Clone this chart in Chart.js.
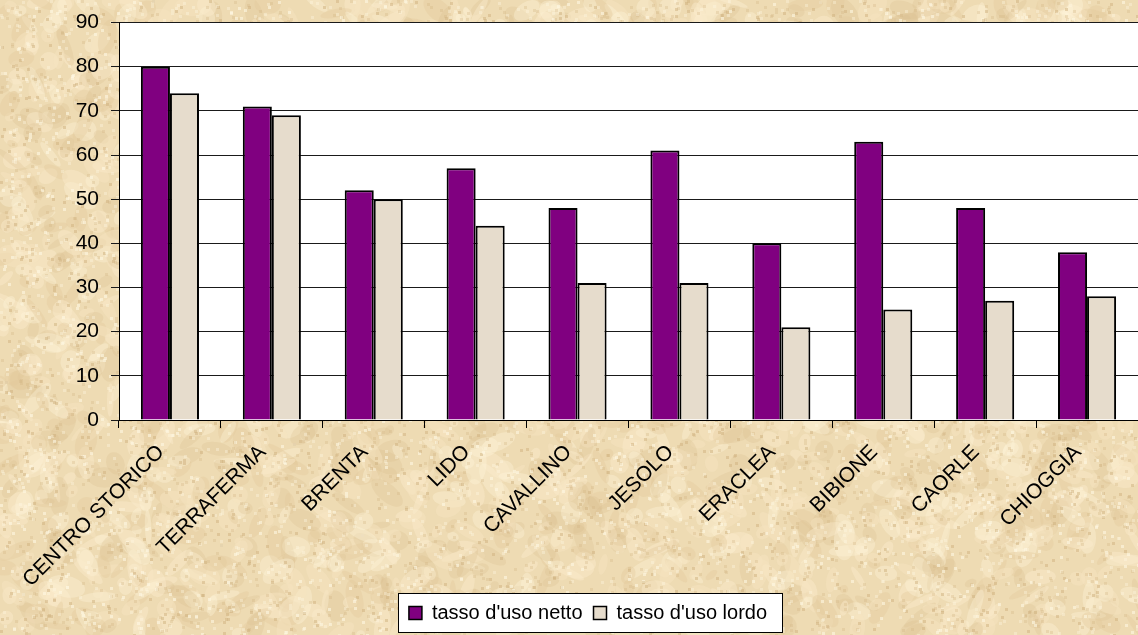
<!DOCTYPE html>
<html>
<head>
<meta charset="utf-8">
<script src="https://cdn.jsdelivr.net/npm/chart.js@4/dist/chart.umd.min.js"></script>
<style>
  html, body { margin: 0; padding: 0; }
  body { width: 1138px; height: 635px; overflow: hidden; background-color: #EFDDB6; }
  #bg { position: absolute; left: 0; top: 0; }
  #wrap { position: absolute; left: 0; top: 0; width: 1138px; height: 635px; }
</style>
</head>
<body>
<canvas id="bg" width="1138" height="635"></canvas>
<div id="wrap"><canvas id="c" width="1138" height="635"></canvas></div>
<script>
const categories = ["CENTRO STORICO", "TERRAFERMA", "BRENTA", "LIDO", "CAVALLINO", "JESOLO", "ERACLEA", "BIBIONE", "CAORLE", "CHIOGGIA"];
const nettoValues = [80, 71, 52, 57, 48, 61, 40, 63, 48, 38];
const lordoValues = [74, 69, 50, 44, 31, 31, 21, 25, 27, 28];
const seriesNames = ["tasso d'uso netto", "tasso d'uso lordo"];
const yMin = 0, yMax = 90, yStep = 10;

const FONT = "'Liberation Sans', Arial, sans-serif";

// decorative parchment texture (deterministic hash, not data)
(function paintParchment() {
  const cv = document.getElementById('bg');
  const g = cv.getContext('2d');
  g.fillStyle = '#EEDBB3';
  g.fillRect(0, 0, cv.width, cv.height);
  let s = 12345;
  const h = () => { s = (s * 1103515245 + 12345) & 0x7fffffff; return s / 0x7fffffff; };
  const shades = ['rgba(250,236,205,0.45)', 'rgba(226,200,155,0.35)', 'rgba(245,228,192,0.5)', 'rgba(215,188,140,0.25)', 'rgba(255,245,220,0.35)'];
  for (let i = 0; i < 3000; i++) {
    const x = h() * cv.width, y = h() * cv.height;
    const w = 4 + h() * 16, hh = 3 + h() * 8;
    g.fillStyle = shades[Math.floor(h() * shades.length)];
    g.beginPath();
    g.ellipse(x, y, w, hh, h() * Math.PI, 0, Math.PI * 2);
    g.fill();
  }
  for (let i = 0; i < 14000; i++) {
    const x = h() * cv.width, y = h() * cv.height;
    g.fillStyle = h() < 0.5 ? 'rgba(210,180,130,0.3)' : 'rgba(255,248,228,0.35)';
    g.fillRect(Math.floor(x), Math.floor(y), 3, 3);
  }
})();

const plotBg = {
  id: 'plotBg',
  beforeDraw(chart) {
    const { ctx, chartArea: a } = chart;
    ctx.save();
    ctx.fillStyle = '#FFFFFF';
    ctx.fillRect(a.left, a.top, a.right - a.left, a.bottom - a.top);
    ctx.restore();
  }
};

const LEGEND_SHIFT = 19;
const legendBox = {
  id: 'legendBox',
  afterUpdate(chart) {
    const lg = chart.legend;
    if (!lg || !lg.legendHitBoxes) return;
    lg.left += LEGEND_SHIFT; lg.right += LEGEND_SHIFT;
    lg.legendHitBoxes.forEach(hb => { hb.left += LEGEND_SHIFT; });
  },
  beforeDraw(chart) {
    const lg = chart.legend;
    if (!lg || !lg.legendHitBoxes || !lg.legendHitBoxes.length) return;
    const hb = lg.legendHitBoxes;
    let l = Infinity, r = -Infinity, t = Infinity, b = -Infinity;
    hb.forEach(h => { l = Math.min(l, h.left); r = Math.max(r, h.left + h.width); t = Math.min(t, h.top); b = Math.max(b, h.top + h.height); });
    const { ctx } = chart;
    ctx.save();
    ctx.fillStyle = '#FFFFFF';
    ctx.strokeStyle = '#000000';
    ctx.lineWidth = 1;
    const x = Math.round(l - 11) + 0.5, y = Math.round(t - 10) + 0.5;
    const w = Math.round(r - l + 26), hgt = Math.round(b - t + 19);
    ctx.fillRect(x, y, w, hgt);
    ctx.strokeRect(x, y, w, hgt);
    ctx.restore();
  }
};

new Chart(document.getElementById('c'), {
  type: 'bar',
  data: {
    labels: categories,
    datasets: [
      { label: seriesNames[0], data: nettoValues, backgroundColor: '#800080', borderColor: '#000000', borderWidth: 2, borderSkipped: 'bottom' },
      { label: seriesNames[1], data: lordoValues, backgroundColor: '#E6DCCC', borderColor: '#000000', borderWidth: 2, borderSkipped: 'bottom' }
    ]
  },
  options: {
    responsive: false,
    animation: false,
    devicePixelRatio: 1,
    layout: { padding: { top: 2, right: 0, bottom: 2, left: 0 } },
    datasets: { bar: { categoryPercentage: 0.57, barPercentage: 1.0 } },
    plugins: {
      legend: {
        position: 'bottom',
        labels: {
          font: { family: FONT, size: 20 },
          color: '#000000',
          boxWidth: 13, boxHeight: 13,
          padding: 11,
          generateLabels(chart) {
            return chart.data.datasets.map((ds, i) => ({
              text: ds.label, fillStyle: ds.backgroundColor, strokeStyle: '#000000', lineWidth: 1.5, hidden: false, datasetIndex: i, fontColor: '#000000'
            }));
          }
        }
      },
      tooltip: { enabled: false }
    },
    scales: {
      x: {
        grid: { display: true, drawOnChartArea: false, drawTicks: true, tickLength: 8, color: '#000000', offset: true },
        border: { display: true, color: '#000000', width: 1 },
        ticks: {
          font: { family: FONT, size: 21 }, color: '#000000',
          maxRotation: 45, minRotation: 45, padding: 12, labelOffset: -9, autoSkip: false
        },
        afterFit(scale) { scale.height = 172; }
      },
      y: {
        min: yMin, max: yMax,
        grid: { color: '#1a1a1a', lineWidth: 1, tickLength: 8, drawTicks: true },
        border: { display: true, color: '#000000', width: 1 },
        ticks: { stepSize: yStep, font: { family: FONT, size: 21, lineHeight: 1.0 }, color: '#000000', padding: 12 },
        afterFit(scale) { scale.width = 119; }
      }
    }
  },
  plugins: [plotBg, legendBox]
});
</script>
</body>
</html>
